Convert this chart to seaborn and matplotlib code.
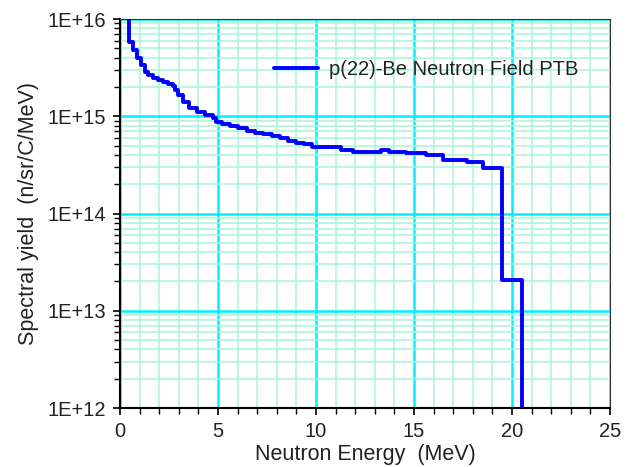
import numpy as np
import pandas as pd
import matplotlib
matplotlib.use("Agg")
import matplotlib.pyplot as plt
import matplotlib.ticker as mticker
import seaborn as sns

# Bin lower edges (MeV) and spectral yield in each bin (n/sr/C/MeV)
energy = [0.30, 0.47, 0.67, 0.88, 1.08, 1.28, 1.45, 1.70, 1.95, 2.20, 2.45, 2.70,
          2.80, 2.97, 3.23, 3.52, 3.95, 4.35, 4.75, 4.90, 5.20, 5.60, 6.00, 6.50,
          6.90, 7.30, 7.75, 8.15, 8.56, 9.00, 9.40, 9.80, 11.30, 11.90, 13.30,
          13.70, 14.60, 15.60, 16.50, 17.70, 18.50, 19.50, 20.50]
yield_ = [2.0e16, 5.85e15, 4.8e15, 4.0e15, 3.37e15, 2.83e15, 2.66e15, 2.46e15, 2.36e15,
          2.27e15, 2.15e15, 2.05e15, 1.86e15, 1.66e15, 1.39e15, 1.21e15, 1.11e15,
          1.03e15, 9.5e14, 8.8e14, 8.4e14, 7.9e14, 7.6e14, 7.1e14, 6.75e14, 6.6e14,
          6.3e14, 6.0e14, 5.6e14, 5.35e14, 5.2e14, 4.85e14, 4.5e14, 4.3e14, 4.45e14,
          4.3e14, 4.2e14, 4.0e14, 3.55e14, 3.4e14, 2.95e14, 2.07e13, 1.0e11]
series_label = "p(22)-Be Neutron Field PTB"
x_ticks = [0, 5, 10, 15, 20, 25]
y_ticks = [1e12, 1e13, 1e14, 1e15, 1e16]

df = pd.DataFrame({"E": energy, "Y": yield_})

sns.set_style("white")
plt.rcParams["font.family"] = ["Liberation Sans", "DejaVu Sans"]

fig = plt.figure(figsize=(6.26, 4.67), dpi=100)
ax = fig.add_axes([0.1917, 0.1263, 0.7827, 0.833])

ax.set_yscale("log")
ax.set_xlim(0, 25)
ax.set_ylim(1e12, 1e16)

sns.lineplot(data=df, x="E", y="Y", ax=ax, estimator=None, sort=False,
             drawstyle="steps-post", color="#0000FF", linewidth=2.8,
             label=series_label, zorder=5)

# grid
ax.xaxis.set_major_locator(mticker.FixedLocator(x_ticks))
ax.xaxis.set_minor_locator(mticker.MultipleLocator(1))
ax.yaxis.set_major_locator(mticker.FixedLocator(y_ticks))
ax.yaxis.set_minor_locator(mticker.LogLocator(base=10, subs=np.arange(2, 10)))
ax.yaxis.set_minor_formatter(mticker.NullFormatter())
ax.yaxis.set_major_formatter(mticker.FuncFormatter(
    lambda v, p: "1E+%d" % int(round(np.log10(v)))))
ax.xaxis.set_major_formatter(mticker.FuncFormatter(lambda v, p: "%d" % v))

ax.grid(True, which="minor", color="#A8F5D8", linewidth=1.1, zorder=0)
ax.grid(True, which="major", color="#00F0FF", linewidth=1.8, zorder=1)
ax.set_axisbelow(True)

ax.tick_params(axis="both", which="major", direction="out", length=5, width=1.2,
               labelsize=14.5, color="black", labelcolor="#222222", pad=5)
ax.tick_params(axis="both", which="minor", direction="out", length=4, width=1.0,
               color="black")
ax.tick_params(axis="x", which="both", bottom=True)
ax.tick_params(axis="y", which="both", left=True)

for side in ["left", "bottom"]:
    ax.spines[side].set_color("black")
    ax.spines[side].set_linewidth(1.5)
for side in ["top", "right"]:
    ax.spines[side].set_color("#333333")
    ax.spines[side].set_linewidth(0.8)

ax.set_xlabel("Neutron Energy  (MeV)", fontsize=15.5, color="#222222", labelpad=2)
ax.set_ylabel("Spectral yield  (n/sr/C/MeV)", fontsize=15.5, color="#222222", labelpad=6)

leg = ax.legend(loc="upper left", bbox_to_anchor=(0.297, 0.916), frameon=False,
                fontsize=14.5, handlelength=2.2, handletextpad=0.55,
                borderaxespad=0)
for t in leg.get_texts():
    t.set_color("#222222")

fig.savefig("out.png", dpi=100)
